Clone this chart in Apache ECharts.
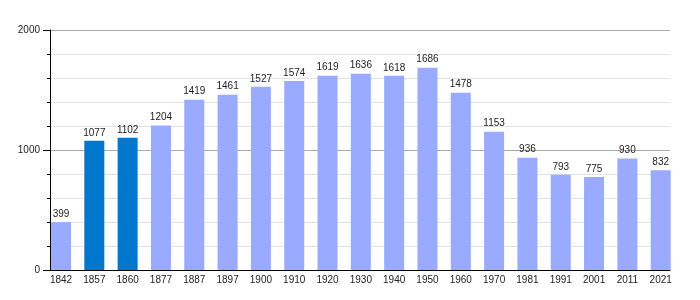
<!DOCTYPE html>
<html><head><meta charset="utf-8">
<script src="https://cdn.jsdelivr.net/npm/echarts@6/dist/echarts.min.js"></script>
<style>html,body{margin:0;padding:0;background:#fff}#c{width:700px;height:300px}</style>
</head><body><div id="c"></div>
<script>
const years = ['1842','1857','1860','1877','1887','1897','1900','1910','1920','1930','1940','1950','1960','1970','1981','1991','2001','2011','2021'];
const population = [399,1077,1102,1204,1419,1461,1527,1574,1619,1636,1618,1686,1478,1153,936,793,775,930,832];
const highlighted = ['1857','1860'];
const yTicks = [0,1000,2000];

const lightColor = '#99aaff';
const darkColor = '#0077cc';
const font = 'Liberation Sans, Arial, sans-serif';

const w = (660.7 - 61) / 18;
const barLeft = 61 - w / 2;
const barRight = 700 - (barLeft + 19 * w);

const chart = echarts.init(document.getElementById('c'), null, {renderer: 'canvas'});
chart.setOption({
  animation: false,
  backgroundColor: '#fff',
  grid: [
    {left: 50, right: 30, top: 30, bottom: 30},
    {left: barLeft, right: barRight, top: 30, bottom: 30}
  ],
  xAxis: [
    {type: 'category', gridIndex: 0, data: years,
     axisLine: {show: true, lineStyle: {color: '#000', width: 1}},
     axisTick: {show: false}, axisLabel: {show: false}, splitLine: {show: false}},
    {type: 'category', gridIndex: 1, data: years,
     axisLine: {show: false}, axisTick: {show: false},
     axisLabel: {show: true, color: '#222', fontSize: 10, fontFamily: font, margin: 5, interval: 0}}
  ],
  yAxis: [
    {type: 'value', gridIndex: 0, min: yTicks[0], max: yTicks[yTicks.length - 1], interval: 1000,
     axisLine: {show: true, lineStyle: {color: '#000', width: 1}},
     axisTick: {show: true, length: 7, lineStyle: {color: '#000'}},
     minorTick: {show: true, splitNumber: 5, length: 3, lineStyle: {color: '#000'}},
     axisLabel: {color: '#222', fontSize: 10, fontFamily: font, margin: 10, formatter: v => String(v)},
     splitLine: {show: true, lineStyle: {color: '#aaaaaa', width: 1}},
     minorSplitLine: {show: true, lineStyle: {color: '#e2e2e2', width: 1}}},
    {type: 'value', gridIndex: 1, min: yTicks[0], max: yTicks[yTicks.length - 1], interval: 1000,
     show: false, splitLine: {show: false}}
  ],
  series: [{
    type: 'bar', xAxisIndex: 1, yAxisIndex: 1, barWidth: 20, z: 5,
    data: population.map((v, i) => ({
      value: v,
      itemStyle: {color: highlighted.includes(years[i]) ? darkColor : lightColor}
    })),
    label: {show: true, position: 'top', distance: 3, color: '#222', fontSize: 10, fontFamily: font}
  }]
});
</script></body></html>
